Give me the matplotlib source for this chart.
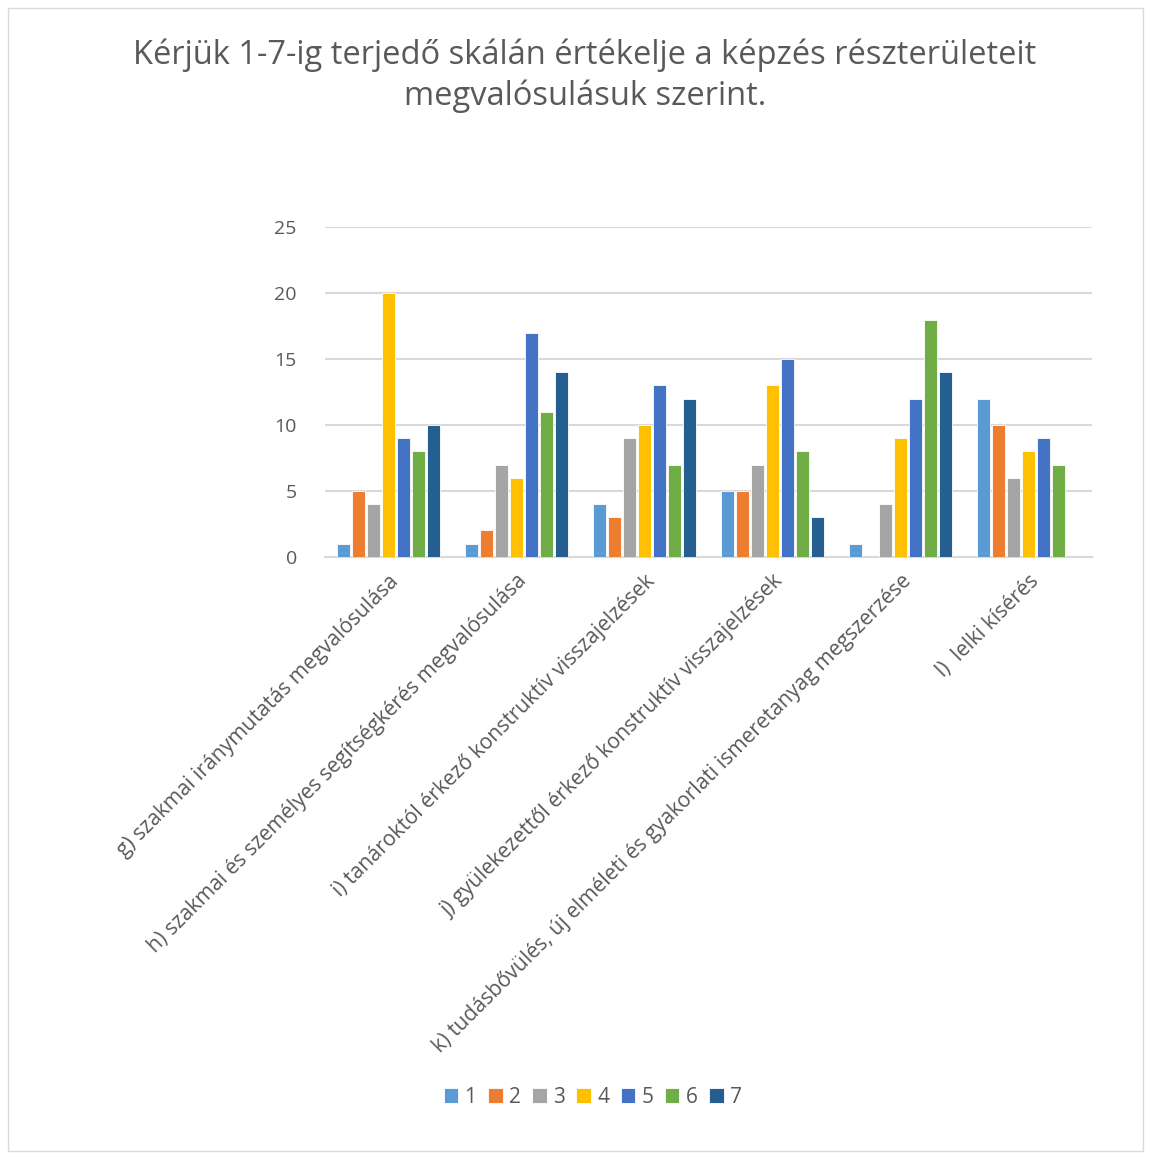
import matplotlib.pyplot as plt
import numpy as np
from matplotlib.patches import Rectangle

plt.rcParams['font.family'] = ['Open Sans', 'DejaVu Sans']

categories = [
    "g) szakmai iránymutatás megvalósulása",
    "h) szakmai és személyes segítségkérés megvalósulása",
    "i) tanároktól érkező konstruktív visszajelzések",
    "j) gyülekezettől érkező konstruktív visszajelzések",
    "k) tudásbővülés, új elméleti és gyakorlati ismeretanyag megszerzése",
    "l)  lelki kísérés",
]
series_names = ["1", "2", "3", "4", "5", "6", "7"]
s1 = [1, 1, 4, 5, 1, 12]
s2 = [5, 2, 3, 5, 0, 10]
s3 = [4, 7, 9, 7, 4, 6]
s4 = [20, 6, 10, 13, 9, 8]
s5 = [9, 17, 13, 15, 12, 9]
s6 = [8, 11, 7, 8, 18, 7]
s7 = [10, 14, 12, 3, 14, 0]
values = [s1, s2, s3, s4, s5, s6, s7]
colors = ["#5B9BD5", "#ED7D31", "#A5A5A5", "#FFC000", "#4472C4", "#70AD47", "#255E91"]

fig = plt.figure(figsize=(11.51, 11.6), dpi=100)
fig.patches.append(Rectangle((0.007, 0.008), 0.986, 0.985, transform=fig.transFigure,
                             fill=False, edgecolor="#d9d9d9", linewidth=1))

ax = fig.add_axes([0.282, 0.520, 0.667, 0.284])
x = np.arange(len(categories))
step = 0.117
width = 0.099
for i, (vals, name, c) in enumerate(zip(values, series_names, colors)):
    ax.bar(x + (i - 3) * step, vals, width=width, color=c, label=name,
           edgecolor="white", linewidth=0.6, zorder=3)

ax.set_xlim(-0.5, len(categories) - 0.5)
ax.set_ylim(0, 25)
ax.set_yticks([0, 5, 10, 15, 20, 25])
ax.yaxis.grid(True, color="#d9d9d9", linewidth=1.5, zorder=0)
for s in ["top", "right", "left"]:
    ax.spines[s].set_visible(False)
ax.spines["bottom"].set_color("#d9d9d9")
ax.spines["bottom"].set_linewidth(1.5)
ax.tick_params(axis="both", length=0, colors="#595959", labelsize=14)
ax.tick_params(axis="y", pad=20)
ax.set_xticks(x)
ax.set_xticklabels(categories, rotation=45, ha="right", rotation_mode="anchor",
                   color="#595959", fontsize=15.2)
ax.tick_params(axis="x", pad=10)

fig.text(0.508, 0.967, "Kérjük 1-7-ig terjedő skálán értékelje a képzés részterületeit\nmegvalósulásuk szerint.",
         ha="center", va="top", fontsize=23.5, color="#595959", linespacing=1.3)

fig.legend(loc="center", bbox_to_anchor=(0.515, 0.054), ncol=7, frameon=False,
           handlelength=0.7, handleheight=0.7, handletextpad=0.3, columnspacing=0.55,
           labelcolor="#595959", prop={"size": 15})

plt.savefig("out.png", dpi=100)
